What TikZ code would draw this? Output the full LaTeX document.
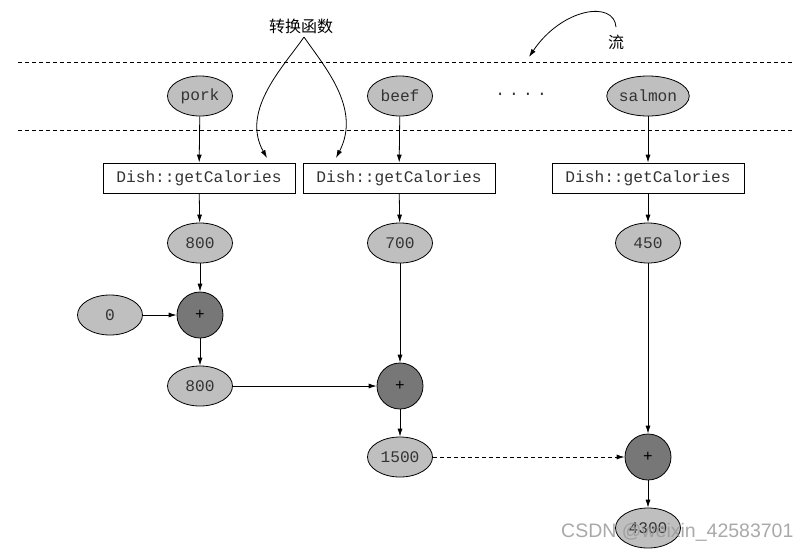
\documentclass[tikz,border=0pt]{standalone}
\usepackage{fontspec}
\setmonofont{Liberation Mono}
\setsansfont{Liberation Sans}
\newfontfamily\cjk{Noto Sans CJK SC}
\usetikzlibrary{arrows.meta,shapes.geometric}
\definecolor{valfill}{HTML}{BFBFBF}
\definecolor{plusfill}{HTML}{777777}
\definecolor{valtext}{HTML}{333333}
\definecolor{wmark}{HTML}{9A9A9A}
\tikzset{
  val/.style={ellipse, draw, line width=0.8pt, fill=valfill, minimum width=65pt, minimum height=40pt, inner sep=0pt, font=\ttfamily\fontsize{16.2}{17}\selectfont, text=valtext},
  plusnode/.style={circle, draw, line width=0.8pt, fill=plusfill, minimum size=46pt, inner sep=0pt, font=\ttfamily\fontsize{16}{16}\selectfont, text=black},
  fnbox/.style={draw, line width=0.8pt, fill=white, minimum width=192pt, minimum height=30pt, inner sep=0pt, font=\ttfamily\fontsize{16.2}{17}\selectfont, text=valtext},
  arr/.style={-{Latex[length=8pt,width=5pt]}, line width=0.8pt},
  sep/.style={line width=0.8pt, dash pattern=on 4pt off 3pt},
  cjklabel/.style={font=\cjk\fontsize{16}{17}\selectfont, inner sep=1pt}
}
\begin{document}
\begin{tikzpicture}[x=1pt,y=-1pt]
\useasboundingbox (0,0) rectangle (810,552);
% separators
\coordinate (s1l) at (18,62); \coordinate (s1r) at (793,62);
\coordinate (s2l) at (18,130); \coordinate (s2r) at (793,130);
\draw[sep] (s1l) -- (s1r);
\draw[sep] (s2l) -- (s2r);
% labels
\node[cjklabel] (conv) at (301,26) {转换函数};
\node[cjklabel] (flow) at (616,42) {流};
\coordinate (convtip) at (304,37);
\coordinate (flowtip) at (616,27);
% stream elements
\node[val] (pork) at (200,96) {pork};
\node[val] (beef) at (400,96) {beef};
\node[val] (salmon) at (648,96) {salmon};
\node[font=\ttfamily\fontsize{16.2}{17}\selectfont, text=valtext] (dots) at (521,94) {.\kern4.2pt.\kern4.2pt.\kern4.2pt.};
% function boxes
\node[fnbox] (f1) at (199,178) {Dish::getCalories};
\node[fnbox] (f2) at (399,178) {Dish::getCalories};
\node[fnbox] (f3) at (648,178) {Dish::getCalories};
% values
\node[val] (v800) at (200,243) {800};
\node[val] (v700) at (400,243) {700};
\node[val] (v450) at (648,243) {450};
\node[val] (v0) at (110,315) {0};
\node[plusnode] (p1) at (200,315) {+};
\node[val] (s800) at (200,386) {800};
\node[plusnode] (p2) at (400,386) {+};
\node[val] (s1500) at (400,457) {1500};
\node[plusnode] (p3) at (648,457) {+};
\node[val] (s4300) at (648,528) {4300};
% curved label arrows
\coordinate (c1end) at (267,158);
\coordinate (c2end) at (336,158);
\draw[arr] (convtip) .. controls (285,65) and (240,110) .. (c1end);
\draw[arr] (convtip) .. controls (323,65) and (362,108) .. (c2end);
\coordinate (flowend) at (529,57);
\draw[arr] (flowtip) .. controls (614,0) and (562,8) .. (flowend);
% connectors
\draw[arr] (pork) -- (f1);
\draw[arr] (beef) -- (f2);
\draw[arr] (salmon) -- (f3);
\draw[arr] (f1) -- (v800);
\draw[arr] (f2) -- (v700);
\draw[arr] (f3) -- (v450);
\draw[arr] (v800) -- (p1);
\draw[arr] (v0) -- (p1);
\draw[arr] (p1) -- (s800);
\draw[arr] (s800) -- (p2);
\draw[arr] (v700) -- (p2);
\draw[arr] (p2) -- (s1500);
\draw[arr, dash pattern=on 4pt off 3pt] (s1500) -- (p3);
\draw[arr] (v450) -- (p3);
\draw[arr] (p3) -- (s4300);
% watermark
\node[font=\sffamily\fontsize{19.5}{20}\selectfont, text=wmark, opacity=0.85, anchor=east] (wm) at (797,532) {CSDN @weixin\_42583701};
\end{tikzpicture}
\end{document}
